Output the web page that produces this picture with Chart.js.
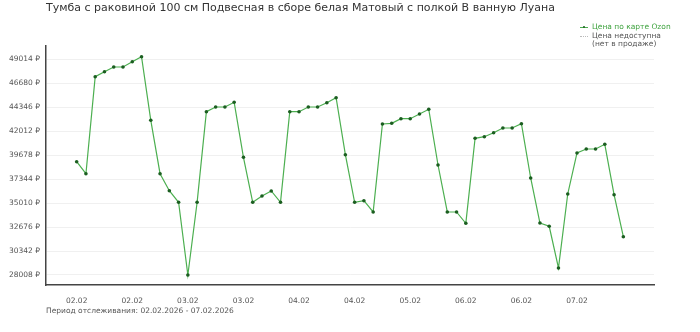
<!DOCTYPE html>
<html>
<head>
<meta charset="utf-8">
<script src="https://cdn.jsdelivr.net/npm/chart.js@4"></script>
<style>
    html, body { margin: 0; padding: 0; background: #fff; }
    #wrap { position: relative; width: 700px; height: 332px; font-family: 'DejaVu Sans', sans-serif; }
    #chart { position: absolute; left: 0; top: 0; }
    .title { position: absolute; left: 46px; top: 1px; font-size: 11px; color: #333; white-space: nowrap; }
    .legend { position: absolute; left: 579px; top: 23px; font-size: 7.5px; line-height: 8.5px; color: #555; }
    .legend .row { position: relative; padding-left: 13px; white-space: nowrap; }
    .legend .green { color: #3fa33f; }
    .legend .mark { position: absolute; left: 1px; top: 4px; width: 8px; height: 0; }
    .legend .solid { border-top: 1px solid #4caf50; }
    .legend .solid::after { content: ''; position: absolute; left: 3px; top: -2px; width: 2px; height: 2px; border-radius: 1px; background: #1b5e20; }
    .legend .dotted { border-top: 1px dotted #bbb; }
    .footer { position: absolute; left: 46px; top: 306px; font-size: 7.5px; color: #555; white-space: nowrap; }
</style>
</head>
<body>
<div id="wrap">
    <canvas id="chart" width="700" height="332"></canvas>
    <div class="title">Тумба с раковиной 100 см Подвесная в сборе белая Матовый с полкой В ванную Луана</div>
    <div class="legend">
        <div class="row green"><span class="mark solid"></span>Цена по карте Ozon</div>
        <div class="row"><span class="mark dotted"></span>Цена недоступна<br>(нет в продаже)</div>
    </div>
    <div class="footer">Период отслеживания: 02.02.2026 - 07.02.2026</div>
</div>
<script>
// ------------------------------------------------------------------
// Data
// ------------------------------------------------------------------
const ozonPrices = [
    39042, 37874, 47320, 47807, 48265, 48265, 48781, 49268, 43074, 37874,
    36218, 35088, 28008, 35088, 43912, 44370, 44370, 44827, 39471, 35088,
    35702, 36189, 35088, 43912, 43912, 44370, 44370, 44788, 45275, 39724,
    35088, 35244, 34144, 42714, 42782, 43230, 43230, 43688, 44146, 38721,
    34144, 34144, 33043, 41321, 41477, 41867, 42324, 42324, 42743, 37455,
    33072, 32751, 28690, 35897, 39890, 40279, 40279, 40737, 35828, 31738
];

const xTickIndex = [0, 6, 12, 18, 24, 30, 36, 42, 48, 54];
const xTickLabels = ['02.02', '02.02', '03.02', '03.02', '04.02', '04.02', '05.02', '06.02', '06.02', '07.02'];

const yTicks = [28008, 30342, 32676, 35010, 37344, 39678, 42012, 44346, 46680, 49014];

// ------------------------------------------------------------------
// Chart
// ------------------------------------------------------------------
const points = ozonPrices.map((v, i) => ({ x: i, y: v }));
const tickFont = { family: 'DejaVu Sans', size: 7.5 };

new Chart(document.getElementById('chart'), {
    type: 'line',
    data: {
        datasets: [{
            label: 'Цена по карте Ozon',
            data: points,
            borderColor: '#4caf50',
            borderWidth: 1.2,
            pointRadius: 1.8,
            pointBackgroundColor: '#1b5e20',
            pointBorderWidth: 0,
            tension: 0
        }]
    },
    options: {
        responsive: false,
        animation: false,
        layout: {
            padding: { top: 46, right: 46, bottom: 0, left: 0 }
        },
        plugins: {
            legend: { display: false },
            tooltip: { enabled: false }
        },
        scales: {
            x: {
                type: 'linear',
                min: -3.31,
                max: 62.31,
                afterBuildTicks: (scale) => {
                    scale.ticks = xTickIndex.map(v => ({ value: v }));
                },
                afterFit: (scale) => { scale.height = 47; },
                grid: { display: false },
                border: { display: true, color: '#444', width: 1.5 },
                ticks: {
                    autoSkip: false,
                    maxRotation: 0,
                    padding: 4,
                    color: '#555',
                    font: tickFont,
                    callback: (value) => {
                        const k = xTickIndex.indexOf(value);
                        return k >= 0 ? xTickLabels[k] : '';
                    }
                }
            },
            y: {
                min: 27034,
                max: 50309,
                afterBuildTicks: (scale) => {
                    scale.ticks = yTicks.map(v => ({ value: v }));
                },
                afterFit: (scale) => { scale.width = 46; },
                grid: { color: '#ececec', lineWidth: 0.8, drawTicks: false },
                border: { display: true, color: '#444', width: 1.5 },
                ticks: {
                    padding: 6,
                    color: '#555',
                    font: tickFont,
                    callback: (value) => value + ' ₽'
                }
            }
        }
    }
});
</script>
</body>
</html>
